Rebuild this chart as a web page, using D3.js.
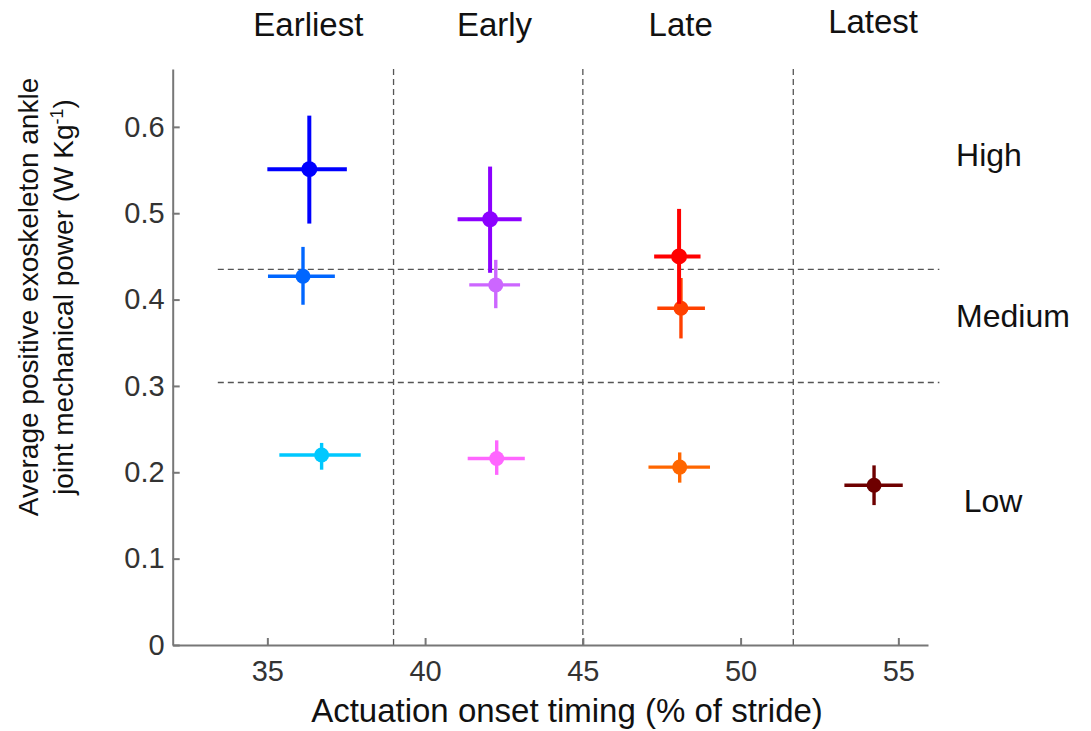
<!DOCTYPE html>
<html><head><meta charset="utf-8">
<script src="https://cdn.jsdelivr.net/npm/d3@7"></script>
<style>body{margin:0;background:#fff}svg{display:block}text{font-family:"Liberation Sans",Arial,sans-serif}</style>
</head><body>
<svg id="c" width="1091" height="731"></svg>
<script>
// Data
const groups   = ["Earliest-High","Earliest-Medium","Earliest-Low","Early-High","Early-Medium","Early-Low","Late-Medium","Late-High","Late-Low","Latest-Low"];
const xMean    = [36.33, 36.13, 36.72, 42.06, 42.24, 42.27, 48.11, 48.05, 48.07, 54.23];
const xLow     = [35.00, 35.02, 35.38, 41.03, 41.40, 41.35, 47.36, 47.26, 47.08, 53.29];
const xHigh    = [37.52, 37.14, 37.96, 43.06, 43.01, 43.16, 48.87, 48.73, 49.03, 55.14];
const yMean    = [0.551, 0.427, 0.220, 0.493, 0.417, 0.216, 0.390, 0.450, 0.206, 0.185];
const yLow     = [0.488, 0.394, 0.203, 0.431, 0.390, 0.197, 0.355, 0.395, 0.188, 0.162];
const yHigh    = [0.613, 0.461, 0.234, 0.554, 0.446, 0.237, 0.425, 0.505, 0.223, 0.208];
const colors   = ["#0000ff","#0066ff","#00c8ff","#8c00ff","#cc66ff","#ff66ff","#ff4000","#ff0000","#ff6600","#6e0000"];
const isMain   = [true,false,false,true,false,false,false,true,false,false];
const timingLabels = ["Earliest","Early","Late","Latest"];
const timingLabelX = [36.3, 42.2, 48.1, 54.2];
const powerLabels  = ["High","Medium","Low"];
const timingDividers = [39, 45, 51.67];
const powerDividers  = [0.435, 0.304];
const xTicks = [35, 40, 45, 50, 55];
const yTicks = [0, 0.1, 0.2, 0.3, 0.4, 0.5, 0.6];

const svg = d3.select("#c");
const x = d3.scaleLinear().domain([32, 55.94]).range([172.7, 928]);
const y = d3.scaleLinear().domain([0, 0.667]).range([645, 69]);

// dividers
svg.append("g").selectAll("line").data(timingDividers).join("line")
  .attr("x1", d => x(d)).attr("x2", d => x(d)).attr("y1", y(0)).attr("y2", y(0.667))
  .attr("stroke", "#555").attr("stroke-width", 1.3).attr("stroke-dasharray", "6,4");
svg.append("g").selectAll("line").data(powerDividers).join("line")
  .attr("x1", x(33.43)).attr("x2", x(56.3)).attr("y1", d => y(d)).attr("y2", d => y(d))
  .attr("stroke", "#555").attr("stroke-width", 1.3).attr("stroke-dasharray", "6,4");

// axes
const xa = svg.append("g").attr("transform", `translate(0,${y(0)})`)
  .call(d3.axisBottom(x).tickValues(xTicks).tickSizeInner(-7).tickSizeOuter(0).tickPadding(15));
const ya = svg.append("g").attr("transform", `translate(${x(32)},0)`)
  .call(d3.axisLeft(y).tickValues(yTicks).tickSizeInner(-7).tickSizeOuter(0).tickPadding(8)
    .tickFormat(d => d === 0 ? "0" : d.toFixed(1)));
[xa, ya].forEach(a => {
  a.select(".domain").attr("stroke", "#777").attr("stroke-width", 2);
  a.selectAll(".tick line").attr("stroke", "#777").attr("stroke-width", 2);
  a.selectAll(".tick text").attr("fill", "#333").style("font-size", "29px").style("font-family", '"Liberation Sans",Arial,sans-serif');
});

// error bars and markers
const idx = d3.range(groups.length);
const g = svg.append("g");
idx.forEach(i => {
  const sw = isMain[i] ? 4 : 3.4;
  g.append("line").attr("x1", x(xLow[i])).attr("x2", x(xHigh[i])).attr("y1", y(yMean[i])).attr("y2", y(yMean[i]))
    .attr("stroke", colors[i]).attr("stroke-width", sw);
  g.append("line").attr("x1", x(xMean[i])).attr("x2", x(xMean[i])).attr("y1", y(yLow[i])).attr("y2", y(yHigh[i]))
    .attr("stroke", colors[i]).attr("stroke-width", sw);
  g.append("circle").attr("cx", x(xMean[i])).attr("cy", y(yMean[i])).attr("r", isMain[i] ? 8 : 7.5)
    .attr("fill", colors[i]);
});

// labels
svg.append("g").selectAll("text").data(timingLabels).join("text")
  .attr("x", (d, i) => x(timingLabelX[i])).attr("y", (d, i) => i === 3 ? 33 : 36)
  .attr("text-anchor", "middle").style("font-size", "33px").attr("fill", "#111").text(d => d);
svg.append("g").selectAll("text").data(powerLabels).join("text")
  .attr("x", (d, i) => [989, 1013, 993][i]).attr("y", (d, i) => [166, 327, 512][i])
  .attr("text-anchor", "middle").style("font-size", "32px").attr("fill", "#111").text(d => d);

svg.append("text").attr("x", 567).attr("y", 722).attr("text-anchor", "middle")
  .style("font-size", "33px").attr("fill", "#111").text("Actuation onset timing (% of stride)");

const yl = svg.append("text").attr("transform", "translate(38,297) rotate(-90)")
  .attr("text-anchor", "middle").style("font-size", "28px").attr("fill", "#111");
yl.append("tspan").attr("x", 0).attr("y", 0).text("Average positive exoskeleton ankle");
const t2 = yl.append("tspan").attr("x", 0).attr("y", 35);
t2.append("tspan").text("joint mechanical power (W Kg");
t2.append("tspan").attr("dy", -10).style("font-size", "18px").text("-1");
t2.append("tspan").attr("dy", 10).text(")");
</script>
</body></html>
